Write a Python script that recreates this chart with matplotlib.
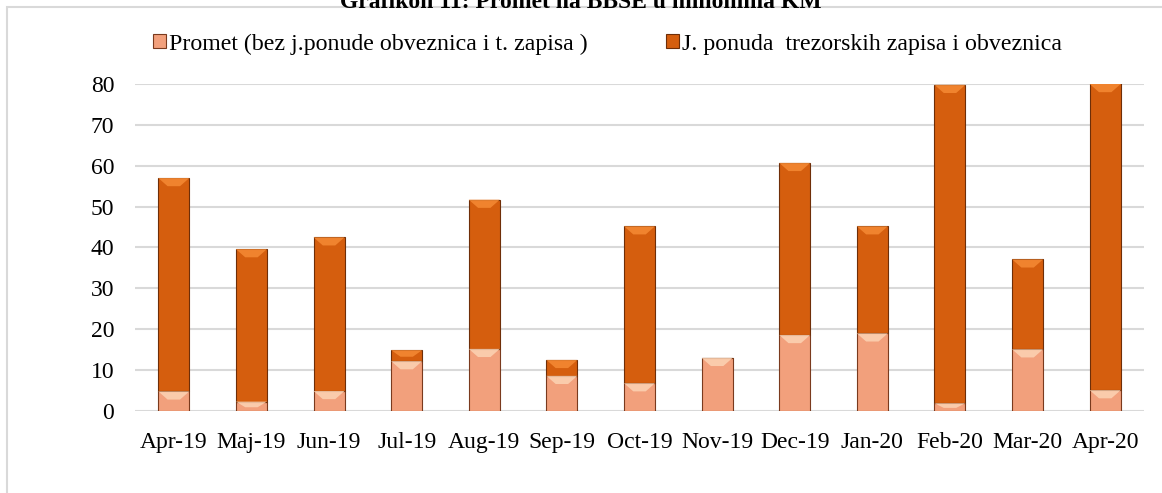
import matplotlib
matplotlib.use("Agg")
import matplotlib.pyplot as plt
import numpy as np
from matplotlib.patches import Polygon, Rectangle

plt.rcParams["font.family"] = ["Liberation Serif", "DejaVu Serif"]

# =========================
# DATA
# =========================

months = ["Apr-19", "Maj-19", "Jun-19", "Jul-19", "Aug-19", "Sep-19", "Oct-19",
          "Nov-19", "Dec-19", "Jan-20", "Feb-20", "Mar-20", "Apr-20"]
promet = [4.8, 2.3, 4.9, 12.2, 15.2, 8.6, 6.8, 13.0, 18.6, 19.0, 1.9, 15.1, 5.1]
ponuda = [52.2, 37.3, 37.6, 2.7, 36.5, 3.9, 38.4, 0.0, 42.1, 26.2, 77.9, 22.0, 78.0]

label_promet = "Promet (bez j.ponude obveznica i t. zapisa )"
label_ponuda = "J. ponuda  trezorskih zapisa i obveznica"
title = "Grafikon 11: Promet na BBSE u milionima KM"

LIGHT = "#F2A07C"
LIGHT_EDGE = "#7A3A1E"
LIGHT_HI = "#FCD3B4"
DARK = "#D55E0E"
DARK_EDGE = "#6E2E08"
DARK_HI = "#F58A34"

fig = plt.figure(figsize=(11.62, 4.93), dpi=100)
ax = fig.add_axes([135 / 1162, 1 - 411 / 493, (1144 - 135) / 1162, (411 - 84) / 493])

x = np.arange(len(months))
width = 0.4
ymax = 80


def bevel(ax, xc, bottom, height, hi_color):
    top = min(bottom + height, ymax)
    h = min(2.0, (top - bottom) * 0.6)
    if h <= 0:
        return
    half = width / 2
    inset = width * 0.3
    poly = Polygon([(xc - half, top), (xc + half, top),
                    (xc + half - inset, top - h), (xc - half + inset, top - h)],
                   closed=True, facecolor=hi_color, edgecolor="none",
                   alpha=0.85, zorder=4)
    ax.add_patch(poly)


b1 = ax.bar(x, promet, width, color=LIGHT, edgecolor=LIGHT_EDGE, linewidth=0.8,
            label=label_promet, zorder=3)
b2 = ax.bar(x, ponuda, width, bottom=promet, color=DARK, edgecolor=DARK_EDGE,
            linewidth=0.8, label=label_ponuda, zorder=3)

for i in range(len(months)):
    bevel(ax, x[i], 0, promet[i], LIGHT_HI)
    if ponuda[i] > 0:
        bevel(ax, x[i], promet[i], ponuda[i], DARK_HI)

ax.set_xlim(-0.5, len(months) - 0.5)
ax.set_ylim(0, ymax)
ax.set_yticks(range(0, 81, 10))
ax.set_xticks(x)
ax.set_xticklabels(months)
ax.tick_params(axis="both", length=0, labelsize=17, colors="#000000")
ax.tick_params(axis="x", pad=15)
ax.tick_params(axis="y", pad=15)
ax.grid(axis="y", color="#D9D9D9", linewidth=1.5, zorder=0)
for s in ax.spines.values():
    s.set_visible(False)

leg = fig.legend(handles=[b1, b2], labels=[label_promet, label_ponuda],
                 loc="center left", bbox_to_anchor=(153 / 1162, 1 - 44 / 493),
                 ncol=2, frameon=False, fontsize=17.2, handlelength=0.55,
                 handleheight=0.55, handletextpad=0.1, columnspacing=3.3,
                 borderaxespad=0, borderpad=0)

# chart frame
fig.patches.append(Rectangle((7 / 1162, -0.05), 1.1, 1 - 7 / 493 + 0.05,
                             transform=fig.transFigure, fill=False,
                             edgecolor="#D9D9D9", linewidth=1.5))

fig.text(0.5, 1 - 2 / 493, title, ha="center", va="center", fontsize=17,
         fontweight="bold")

fig.savefig("out.png", dpi=100)
